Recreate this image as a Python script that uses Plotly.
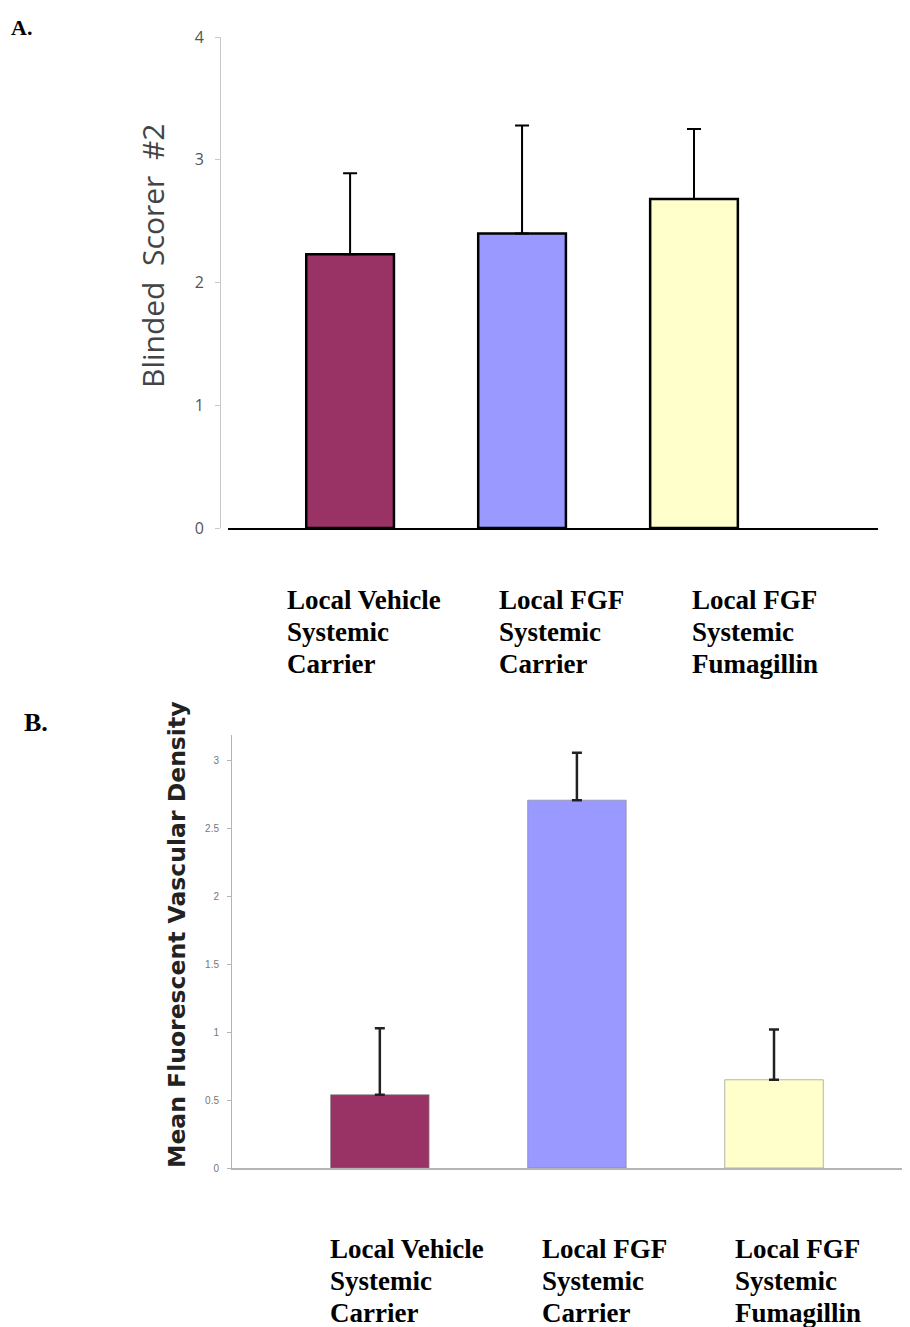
import plotly.graph_objects as go

# ---------------- data ----------------
cat_lines = [
    ["Local Vehicle", "Systemic", "Carrier"],
    ["Local FGF", "Systemic", "Carrier"],
    ["Local FGF", "Systemic", "Fumagillin"],
]
cat_index = [0, 1, 2]
scores_a = [2.23, 2.40, 2.68]
err_a = [0.66, 0.88, 0.57]
density_b = [0.54, 2.71, 0.65]
err_b = [0.49, 0.35, 0.37]
bar_colors = ["#993366", "#9999FF", "#FFFFCC"]
ticks_a = [0, 1, 2, 3, 4]
ticks_b = [0, 0.5, 1, 1.5, 2, 2.5, 3]
tick_text_b = ["0", "0.5", "1", "1.5", "2", "2.5", "3"]

# page body has an 8px margin; the figure fills the rest of the 910x1327 window
OFF = 8
W, H = 910 - OFF, 1327 - OFF


def px(xp):
    return (xp - OFF) / W


def py(yp):
    return 1 - (yp - OFF) / H


fig = go.Figure()

fig.add_trace(go.Bar(
    x=cat_index, y=scores_a, width=0.51,
    marker=dict(color=bar_colors, line=dict(color="black", width=2.5)),
    error_y=dict(type="data", symmetric=False, array=err_a,
                 arrayminus=[0] * len(err_a), color="black",
                 thickness=2, width=7),
    xaxis="x", yaxis="y", showlegend=False, hoverinfo="y",
))

fig.add_trace(go.Bar(
    x=cat_index, y=density_b, width=0.5,
    marker=dict(color=bar_colors, line=dict(color="rgba(130,130,130,0.6)", width=1)),
    error_y=dict(type="data", symmetric=False, array=err_b,
                 arrayminus=[0] * len(err_b), color="#222222",
                 thickness=2.5, width=5),
    xaxis="x2", yaxis="y2", showlegend=False, hoverinfo="y",
))

annotations = []

# panel letters
annotations.append(dict(text="<b>A.</b>", x=px(9), y=py(28), xref="paper", yref="paper",
                        xanchor="left", yanchor="middle", showarrow=False,
                        font=dict(family="Liberation Serif", size=22, color="black")))
annotations.append(dict(text="<b>B.</b>", x=px(22), y=py(722), xref="paper", yref="paper",
                        xanchor="left", yanchor="middle", showarrow=False,
                        font=dict(family="Liberation Serif", size=26, color="black")))

# y titles
annotations.append(dict(text="Blinded\u00a0\u00a0Scorer\u00a0\u00a0#2", textangle=-90,
                        x=px(152), y=py(256), xref="paper", yref="paper",
                        xanchor="center", yanchor="middle", showarrow=False,
                        font=dict(family="Open Sans", size=30, color="#444444")))
annotations.append(dict(text="<b>Mean Fluorescent Vascular Density</b>", textangle=-90,
                        x=px(177), y=py(935), xref="paper", yref="paper",
                        xanchor="center", yanchor="middle", showarrow=False,
                        font=dict(family="DejaVu Sans", size=23.5, color="#222222")))

# category labels
label_left_a = [285, 497, 690]
label_left_b = [328, 540, 733]
line_y_a = [600, 632, 664]
line_y_b = [1249, 1281, 1313]
for lefts, ys in ((label_left_a, line_y_a), (label_left_b, line_y_b)):
    for lines, lx in zip(cat_lines, lefts):
        for txt, ly in zip(lines, ys):
            annotations.append(dict(text="<b>" + txt + "</b>", x=px(lx), y=py(ly),
                                    xref="paper", yref="paper", xanchor="left",
                                    yanchor="middle", showarrow=False,
                                    font=dict(family="Liberation Serif", size=27,
                                              color="black")))

fig.update_layout(
    width=W, height=H,
    margin=dict(l=0, r=0, t=0, b=0, pad=0, autoexpand=False),
    paper_bgcolor="white", plot_bgcolor="white",
    bargap=0.5,
    annotations=annotations,
    xaxis=dict(domain=[px(228), px(878)], range=[-0.71, 3.07], anchor="y",
               showline=True, linecolor="black", linewidth=2, automargin=False,
               showticklabels=False, ticks="", showgrid=False, zeroline=False),
    yaxis=dict(domain=[py(528), py(37)], range=[0, 4], anchor="free", position=px(220),
               showline=True, linecolor="#c8c8c8", linewidth=1, automargin=False,
               ticks="outside", ticklen=5, tickcolor="#c8c8c8",
               tickvals=ticks_a, ticklabelstandoff=8,
               tickfont=dict(family="Open Sans", size=16, color="#555555"),
               showgrid=False, zeroline=False),
    xaxis2=dict(domain=[px(232), 1.0], range=[-0.75, 2.69], anchor="y2",
                showline=True, linecolor="#b4b4b4", linewidth=1.5, automargin=False,
                showticklabels=False, ticks="", showgrid=False, zeroline=False),
    yaxis2=dict(domain=[py(1168), py(735)], range=[0, 3.19], anchor="x2",
                showline=True, linecolor="#b4b4b4", linewidth=1, automargin=False,
                ticks="outside", ticklen=4, tickcolor="#b4b4b4",
                tickvals=ticks_b, ticktext=tick_text_b, ticklabelstandoff=6,
                tickfont=dict(family="Liberation Sans", size=10, color="#777777"),
                showgrid=False, zeroline=False),
)

fig.write_html("out.html")
